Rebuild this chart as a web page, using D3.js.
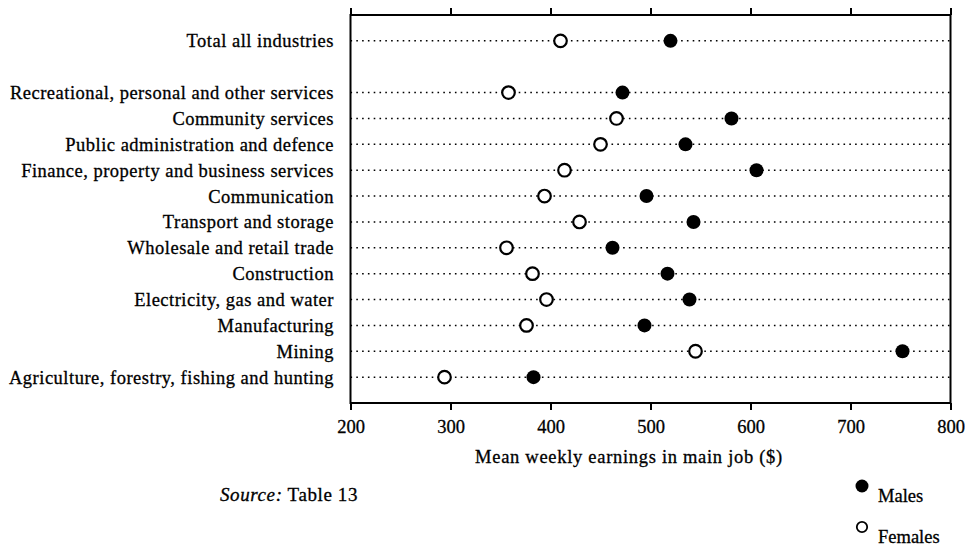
<!DOCTYPE html>
<html><head><meta charset="utf-8">
<script src="https://cdn.jsdelivr.net/npm/d3@7/dist/d3.min.js"></script>
<style>
body{margin:0;background:#fff;}
text{font-family:"Liberation Serif","Times New Roman",serif;fill:#000;stroke:#000;stroke-width:0.3px;}
</style></head>
<body>
<svg id="chart" width="965" height="546"></svg>
<script>
const categories = [
  "Total all industries",
  "Recreational, personal and other services",
  "Community services",
  "Public administration and defence",
  "Finance, property and business services",
  "Communication",
  "Transport and storage",
  "Wholesale and retail trade",
  "Construction",
  "Electricity, gas and water",
  "Manufacturing",
  "Mining",
  "Agriculture, forestry, fishing and hunting"
];
// row slot in the chart (slot 2 is a blank gap under the total)
const rowSlots = [1,3,4,5,6,7,8,9,10,11,12,13,14];
const males   = [520,472,581,535,606,496,543,462,517,539,494,752,383];
const females = [410,358,466,450,414,394,429,356,382,396,376,545,294];
const xTicks  = [200,300,400,500,600,700,800];
const xTitle  = "Mean weekly earnings in main job ($)";

const svg = d3.select("#chart");
const pL = 350.5, pR = 950.5, pT = 15, pB = 403;
const x = d3.scaleLinear().domain([200,800]).range([pL,pR]);
const y = d3.scaleLinear().domain([0,15]).range([pT,pB]);

// dotted guide lines
svg.append("g").selectAll("line").data(categories).join("line")
  .attr("x1", pL).attr("x2", pR)
  .attr("y1", (d,i)=>y(rowSlots[i])).attr("y2", (d,i)=>y(rowSlots[i]))
  .attr("stroke","#000").attr("stroke-width",1.5)
  .attr("stroke-dasharray","1.6,4.2");

// frame
svg.append("rect").attr("x",pL).attr("y",pT)
  .attr("width",pR-pL).attr("height",pB-pT)
  .attr("fill","none").attr("stroke","#000").attr("stroke-width",2);

// axes
const gb = svg.append("g").attr("transform",`translate(0,${pB})`)
  .call(d3.axisBottom(x).tickValues(xTicks).tickSize(7).tickPadding(10).tickFormat(d3.format("d")));
const gt = svg.append("g").attr("transform",`translate(0,${pT})`)
  .call(d3.axisTop(x).tickValues(xTicks).tickSize(7).tickFormat(""));
[gb,gt].forEach(g=>{
  g.select(".domain").remove();
  g.selectAll(".tick line").attr("stroke","#000").attr("stroke-width",2);
});
gb.selectAll(".tick text").style("font-family","'Liberation Serif',serif")
  .style("font-size","18.5px").attr("fill","#000");

// category labels
svg.append("g").selectAll("text").data(categories).join("text")
  .attr("x", 334).attr("y",(d,i)=>y(rowSlots[i]))
  .attr("dy","0.35em").attr("text-anchor","end")
  .style("font-size","18.5px").style("letter-spacing","0.5px")
  .text(d=>d);

// markers
svg.append("g").selectAll("circle").data(females).join("circle")
  .attr("cx",d=>x(d)).attr("cy",(d,i)=>y(rowSlots[i])).attr("r",6.3)
  .attr("fill","#fff").attr("stroke","#000").attr("stroke-width",2.2);
svg.append("g").selectAll("circle").data(males).join("circle")
  .attr("cx",d=>x(d)).attr("cy",(d,i)=>y(rowSlots[i])).attr("r",7)
  .attr("fill","#000");

// axis title
svg.append("text").attr("x",629).attr("y",463).attr("text-anchor","middle")
  .style("font-size","18.5px").style("letter-spacing","0.7px").text(xTitle);

// source
const src = svg.append("text").attr("x",220).attr("y",501).style("font-size","19px").style("letter-spacing","0.6px");
src.append("tspan").style("font-style","italic").text("Source:");
src.append("tspan").text("  Table 13");

// legend
const legend = [{label:"Males",filled:true,cy:486,ty:502},{label:"Females",filled:false,cy:527,ty:543}];
const lg = svg.append("g");
legend.forEach(l=>{
  lg.append("circle").attr("cx",862).attr("cy",l.cy).attr("r",l.filled?6.5:5.2)
    .attr("fill",l.filled?"#000":"#fff").attr("stroke","#000").attr("stroke-width",l.filled?0:1.8);
  lg.append("text").attr("x",878).attr("y",l.ty).style("font-size","18.5px").text(l.label);
});
</script>
</body></html>
